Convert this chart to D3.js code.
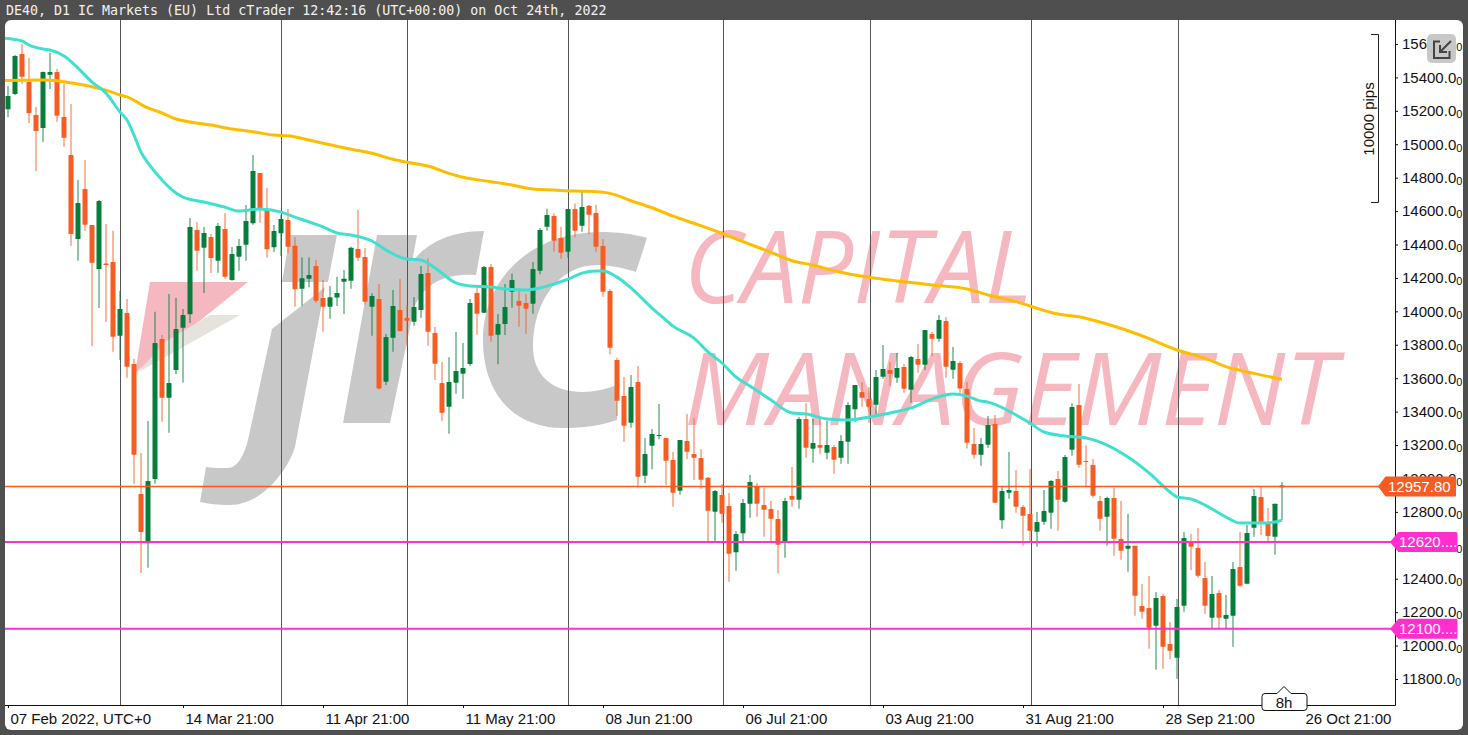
<!DOCTYPE html>
<html>
<head>
<meta charset="utf-8">
<title>DE40 D1</title>
<script src="https://cdn.jsdelivr.net/npm/d3@7/dist/d3.min.js"></script>
<style>
html,body{margin:0;padding:0;background:#fff;overflow:hidden}
svg{display:block}
text{font-family:"Liberation Sans",Arial,sans-serif}
</style>
</head>
<body>
<svg id="c" width="1468" height="735"></svg>
<script>
const titleText = "DE40, D1 IC Markets (EU) Ltd cTrader 12:42:16 (UTC+00:00) on Oct 24th, 2022";

const opens = [15209,15300,15540,15372,15175,15097,15416,15432,15163,14935,14433,14732,14517,14253,14286,14295,13854,13990,13685,12907,12612,12997,13834,13483,13649,13902,13982,14487,14381,14445,14303,14493,14187,14327,14399,14527,14828,14612,14383,14467,14547,14393,14135,14195,14271,14080,14028,14083,14177,14183,14373,14325,14028,14074,13579,13842,14008,13960,13938,14008,14229,13870,13571,13429,13573,13627,13685,14110,13992,14265,13860,13924,14117,14062,14050,14046,14243,14506,14570,14439,14357,14612,14512,14632,14588,14391,14122,13709,13493,13334,13577,13016,13196,13256,13242,13110,12927,13224,13146,13122,13004,12801,12901,12835,12558,12672,12849,12955,12841,12817,12757,12621,12895,12873,13356,13178,13200,13154,13188,13124,13220,13414,13517,13475,13441,13609,13649,13603,13667,13531,13715,13681,13864,13836,13942,13651,13691,13535,13206,13142,13202,13326,12750,12915,12925,12829,12787,12681,12741,12795,12997,12861,13172,13439,13104,13080,12865,12771,12883,12638,12580,12598,12237,12225,12119,12297,12009,11927,12239,12626,12584,12404,12167,12314,12161,12179,12470,12370,12705,12889,12739,12651,12947];
const closes = [15289,15528,15404,15187,15079,15432,15432,15171,15039,14463,14648,14518,14291,14660,14277,13848,14014,13669,13142,12680,12985,13810,13483,13571,13894,13978,14505,14363,14469,14319,14511,14207,14343,14391,14541,14840,14617,14371,14481,14553,14387,14132,14198,14217,14064,14028,14084,14110,14195,14381,14321,14058,14092,13539,13846,14032,13882,13944,14026,14223,13878,13687,13393,13577,13643,13661,14050,13986,14265,13854,13924,14026,14187,14034,14016,14253,14487,14576,14423,14351,14612,14482,14624,14578,14387,14117,13782,13465,13316,13547,13010,13146,13266,13260,13106,12915,13230,13160,13124,12992,12807,12925,12789,12550,12667,12853,12979,12849,12813,12759,12603,12865,12873,13356,13184,13212,13184,13200,13112,13224,13440,13559,13483,13429,13607,13655,13627,13661,13537,13727,13681,13888,13836,13948,13669,13703,13539,13214,13142,13206,13320,12855,12925,12931,12831,12777,12687,12739,12805,12985,12873,13128,13427,13082,13100,12897,12759,12883,12639,12568,12598,12298,12203,12107,12285,11993,11969,12231,12644,12592,12418,12239,12308,12167,12183,12458,12358,12673,12895,12741,12656,12849,12957.8];
const highs = [15348,15534,15600,15516,15223,15435,15548,15450,15360,15241,14786,14906,14517,14666,14523,14482,14123,14074,13717,13152,13344,13998,13858,14104,14080,14014,14558,14535,14505,14463,14529,14588,14385,14433,14636,14935,14828,14738,14517,14576,14612,14445,14323,14323,14307,14187,14152,14207,14247,14387,14606,14379,14108,14164,13864,14128,14193,14038,14086,14271,14317,13906,13697,13725,13876,13810,14074,14138,14271,14283,13984,14164,14227,14138,14104,14295,14499,14614,14587,14506,14612,14646,14716,14636,14638,14433,14134,13723,13607,13619,13673,13242,13296,13445,13244,13158,13230,13386,13362,13176,13009,12931,12967,12913,12685,12877,13021,12973,12943,12865,12811,12883,13068,13368,13450,13356,13360,13344,13200,13260,13456,13559,13577,13547,13649,13799,13697,13751,13685,13733,13804,13888,13876,13978,13966,13787,13703,13577,13302,13242,13374,13380,12951,13158,13051,12841,13056,12799,12931,12991,13045,13140,13450,13565,13200,13116,12895,12891,12943,12865,12787,12598,12368,12416,12320,12308,12141,12279,12680,12668,12703,12500,12416,12332,12303,12500,12680,12721,12937,12951,12823,12849,12979];
const lows = [15161,15295,15360,15127,14840,15013,15330,15135,14985,14393,14303,14483,13793,14020,13936,13758,13709,13603,12969,12434,12466,12969,13340,13274,13623,13575,13930,14243,14110,14229,14231,14195,14183,14243,14303,14518,14530,14323,14355,14331,14349,14028,14034,14144,14052,13878,13956,14032,13984,14135,14303,14040,13854,13533,13559,13758,13878,13794,13914,13962,13794,13589,13345,13268,13507,13477,13673,13860,13988,13818,13683,13858,14022,13908,13866,13986,14222,14482,14357,14315,14321,14443,14477,14461,14357,14088,13743,13374,13220,13304,12947,12971,13055,13234,12961,12831,12903,13116,12991,12939,12621,12621,12735,12382,12448,12612,12765,12771,12651,12621,12432,12526,12831,12819,13124,13094,13148,13115,13028,13088,13088,13340,13429,13334,13386,13597,13553,13573,13513,13453,13633,13649,13733,13818,13603,13597,13513,13180,13118,13076,13184,12855,12699,12879,12795,12597,12621,12592,12723,12699,12687,12855,13136,13064,12951,12885,12687,12597,12538,12514,12442,12179,12161,11981,11856,11861,11918,11802,12203,12452,12406,12191,12105,12105,12105,11993,12352,12370,12651,12662,12621,12544,12751];

const fastIdx = [-1,2,3,5,6,8,10,12,14,16,17,18,19,20,22,24,25,28,31,33,36,39,41,45,47,49,52,54,57,59,61,64,66,69,71,74,76,78,80,82,84,85,87,89,92,94,95,98,100,102,104,106,109,112,114,117,120,123,126,129,132,135,137,139,140,144,146,148,151,154,157,160,163,166,167,169,171,174,176,179,181,182];
const fastMA = [15636,15618,15594,15570,15564,15528,15456,15372,15306,15193,15145,15055,14953,14888,14786,14708,14684,14654,14624,14600,14612,14594,14564,14505,14469,14457,14421,14367,14313,14307,14259,14170,14152,14146,14134,14128,14140,14164,14193,14229,14241,14241,14205,14140,14020,13948,13912,13840,13757,13691,13607,13553,13469,13392,13386,13356,13350,13368,13392,13422,13475,13505,13493,13463,13457,13380,13332,13278,13254,13242,13200,13128,13033,12919,12889,12877,12841,12769,12733,12733,12739,12751];
const slowIdx = [-1,5,7,8,10,12,14,16,17,20,22,24,26,29,32,35,38,40,43,46,49,52,55,57,60,63,65,69,72,75,78,81,83,86,89,92,95,98,102,105,109,112,115,118,123,127,132,137,140,144,146,150,153,157,162,167,171,174,178,182];
const slowMA = [15382,15384,15380,15374,15360,15344,15324,15295,15283,15217,15187,15151,15133,15115,15091,15075,15055,15051,15025,14997,14970,14946,14910,14892,14870,14826,14802,14776,14756,14732,14726,14720,14718,14706,14662,14620,14570,14527,14467,14417,14353,14303,14277,14243,14204,14182,14158,14134,14098,14058,14032,13984,13968,13924,13854,13769,13719,13669,13629,13593];

const yTicks = [11800,12000,12200,12400,12600,12800,13000,13200,13400,13600,13800,14000,14200,14400,14600,14800,15000,15200,15400,15600];
const xTickIdx = [0,25,45,65,85,105,125,145,165,185];
const xTickLabels = ["07 Feb 2022, UTC+0","14 Mar 21:00","11 Apr 21:00","11 May 21:00","08 Jun 21:00","06 Jul 21:00","03 Aug 21:00","31 Aug 21:00","28 Sep 21:00","26 Oct 21:00"];
const gridIdx = [16,39,57,80,102.15,123.15,146.15,167.15];
const lastPrice = 12957.8, lastLabel = "12957.80";
const levels = [12620,12100], levelLabels = ["12620....","12100...."];
const wmLines = ["CAPITAL","MANAGEMENT"];

const cGreen="#067d3b", cRed="#f75c22", cPink="#ff2ecf", cTeal="#3fe0cf", cGold="#ffbd00";
const svg=d3.select("#c");
const x=d3.scaleLinear().domain([0,185]).range([8,1303]);
const y=d3.scaleLinear().domain([11800,15400]).range([679,77.4]);
const snap=v=>Math.floor(v)+.5;
const defs=svg.append("defs");
defs.append("clipPath").attr("id","plot").append("rect").attr("x",5).attr("y",20).attr("width",1390).attr("height",685);

// frame
svg.append("rect").attr("width",1468).attr("height",735).attr("fill","#4f4f4f");
svg.append("rect").attr("x",5).attr("y",20).attr("width",1458).attr("height",710).attr("rx",6).attr("fill","#fff");
svg.append("text").attr("x",6).attr("y",14.5).attr("fill","#f2f2f2")
  .style("font-family","'DejaVu Sans Mono',monospace").style("font-size","13.3px").text(titleText);

// watermark
const wm=svg.append("g");
const gray="#c8c8c8";
wm.append("path").attr("fill",gray).attr("d","M290 235L337 235L328 282L282 282Z");
wm.append("path").attr("fill",gray).attr("d","M272 329L325 287L295 447C288 470 262 505 230 505C218 505 208 504 200 502L206 467C212 468 220 468 227 468C238 468 244 455 248 440Z");
wm.append("path").attr("fill",gray).attr("d","M377 235L417 235L412 262C425 245 448 231 484 231L476 275C450 273 425 280 414 308L390 423L343 423Z");
wm.append("path").attr("fill",gray).attr("d","M647 238L636 272C620 267 608 265 597 265C560 265 533 300 533 347C533 375 552 392 583 392C595 392 606 389 617 385L617 420C600 426 582 428 563 428C515 428 483 395 483 340C483 280 530 232 600 232C618 232 634 234 647 238Z");
wm.append("path").attr("fill","#f6b8c0").attr("d","M150 282L248 282L135 373Z");
wm.append("path").attr("fill","#e6e3df").attr("d","M137 373L240 315L210 315L165 342Z");
wm.selectAll("text.wm").data(wmLines).join("text").attr("class","wm")
  .attr("x",684).attr("y",(d,i)=>i?425:303)
  .attr("textLength",(d,i)=>i?652:348).attr("lengthAdjust","spacingAndGlyphs")
  .attr("fill","#f6b8c0").style("font-family","'Open Sans','Liberation Sans',sans-serif")
  .style("font-style","italic").style("font-weight",400).style("font-size","101px").text(d=>d);

// vertical grid
const plot=svg.append("g").attr("clip-path","url(#plot)");
plot.selectAll("line.grid").data(gridIdx).join("line").attr("class","grid")
  .attr("x1",d=>snap(x(d))).attr("x2",d=>snap(x(d))).attr("y1",20).attr("y2",705).attr("stroke","#555").attr("stroke-width",1);

// candles
const idx=d3.range(opens.length);
const col=i=>closes[i]>=opens[i]?cGreen:cRed;
plot.selectAll("line.wick").data(idx).join("line").attr("class","wick")
  .attr("x1",i=>x(i)).attr("x2",i=>x(i)).attr("y1",i=>y(highs[i])).attr("y2",i=>y(lows[i]))
  .attr("stroke",col).attr("stroke-opacity",.6).attr("stroke-width",1.5);
plot.selectAll("rect.body").data(idx).join("rect").attr("class","body")
  .attr("x",i=>x(i)-2.5).attr("width",5)
  .attr("y",i=>Math.min(y(opens[i]),y(closes[i])))
  .attr("height",i=>Math.max(1,Math.abs(y(opens[i])-y(closes[i]))))
  .attr("rx",.6).attr("fill",col);

// moving averages
const line=d3.line().curve(d3.curveMonotoneX);
plot.append("path").attr("fill","none").attr("stroke",cGold).attr("stroke-width",3)
  .attr("d",line(slowIdx.map((d,i)=>[x(d),y(slowMA[i])])));
plot.append("path").attr("fill","none").attr("stroke",cTeal).attr("stroke-width",3)
  .attr("d",line(fastIdx.map((d,i)=>[x(d),y(fastMA[i])])));

// horizontal levels
const py=snap(y(lastPrice))+1;
svg.append("rect").attr("x",5).attr("y",py-.75).attr("width",1375).attr("height",1.5).attr("fill","#ff5a14");
plot.selectAll("line.lvl").data(levels).join("line").attr("class","lvl")
  .attr("x1",5).attr("x2",1392).attr("y1",d=>y(d)).attr("y2",d=>y(d)).attr("stroke",cPink).attr("stroke-width",2);

// pips ruler
svg.append("path").attr("fill","none").attr("stroke","#222").attr("stroke-width",1)
  .attr("d","M1371 34.5H1378.5V202.5H1371");
svg.append("text").attr("transform","translate(1374,119) rotate(-90)").attr("text-anchor","middle")
  .attr("fill","#111").style("font-size","15px").text("10000 pips");

// axes
const yAxis=d3.axisRight(y).tickValues(yTicks).tickSize(3).tickPadding(4).tickFormat(d=>d.toFixed(1));
const ga=svg.append("g").attr("transform","translate(1395,0)").call(yAxis);
ga.select(".domain").remove();
ga.selectAll("text").style("font-size","15px").attr("fill","#111").append("tspan")
  .attr("dy",2).style("font-size","11px").text("0");
ga.selectAll("line").attr("stroke","#111");
const xAxis=d3.axisBottom(x).tickValues(xTickIdx).tickSize(3).tickPadding(4).tickFormat((d,i)=>xTickLabels[i]);
const gb=svg.append("g").attr("transform","translate(0,705)").call(xAxis);
gb.select(".domain").remove();
gb.selectAll("text").attr("text-anchor","start").attr("dx",2).attr("dy","0.83em").style("font-size","15px").attr("fill","#111");
gb.selectAll("line").attr("stroke","#111");
svg.append("path").attr("fill","none").attr("stroke","#111").attr("stroke-width",1).attr("d","M5 705.5H1395.5V20");

// price tags
svg.append("path").attr("fill",cRed).attr("stroke",cRed).attr("stroke-linejoin","round").attr("stroke-width",2)
  .attr("d",`M1379 ${py}L1386 ${py-9}H1455V${py+9}H1386Z`);
svg.append("text").attr("x",1388).attr("y",py+5.5).attr("fill","#fff").style("font-size","15px").text(lastLabel);
const tags=svg.selectAll("g.tag").data(levels).join("g").attr("class","tag");
tags.append("path").attr("fill",cPink).attr("stroke",cPink).attr("stroke-linejoin","round").attr("stroke-width",3)
  .attr("d",d=>`M1392 ${y(d)}L1399 ${y(d)-8.5}H1456V${y(d)+8.5}H1399Z`);
tags.append("text").attr("x",1399).attr("y",d=>y(d)+5.5).attr("fill","#fff").style("font-size","15px").text((d,i)=>levelLabels[i]);

// 8h box
svg.append("path").attr("fill","#fff").attr("stroke","#111").attr("stroke-width",1)
  .attr("d","M1265 693.5H1277L1284 686.5L1291 693.5H1304Q1307 693.5 1307 696.5V707.5Q1307 710.5 1304 710.5H1265Q1262 710.5 1262 707.5V696.5Q1262 693.5 1265 693.5Z");
svg.append("text").attr("x",1284).attr("y",707.5).attr("text-anchor","middle").attr("fill","#111").style("font-size","15px").text("8h");

// corner button
svg.append("rect").attr("x",1427).attr("y",34).attr("width",29).attr("height",29).attr("rx",5).attr("fill","#c8c8c8");
svg.append("path").attr("fill","none").attr("stroke","#444").attr("stroke-width",2)
  .attr("d","M1440 41.5H1434V58H1449.5V51M1451 41L1440 52M1440 45V52H1447");
</script>
</body>
</html>
